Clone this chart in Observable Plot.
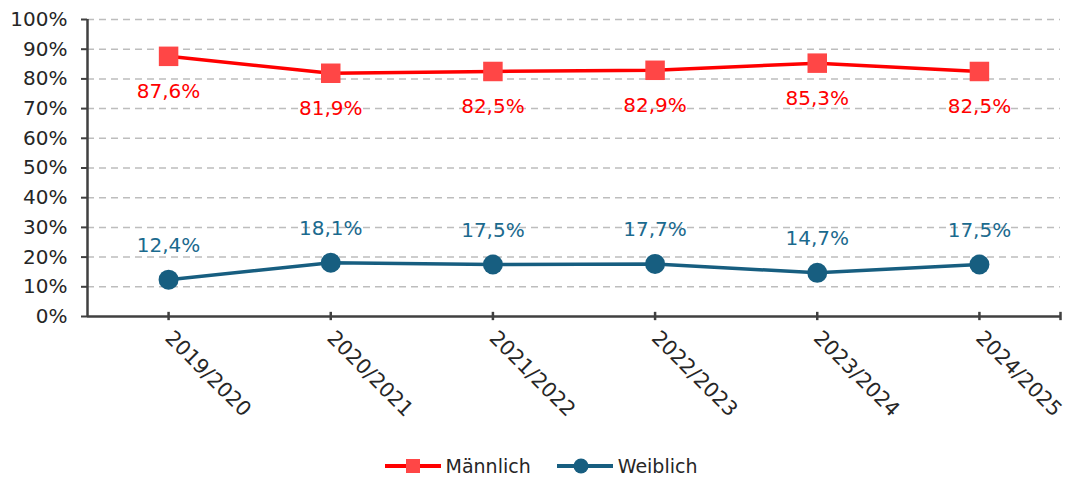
<!DOCTYPE html>
<html><head><meta charset="utf-8">
<script src="https://cdn.jsdelivr.net/npm/d3@7"></script>
<script src="https://cdn.jsdelivr.net/npm/@observablehq/plot@0.6"></script>
<style>
body{margin:0;background:#fff;font-family:"DejaVu Sans",sans-serif;}
#legend{height:32px;display:flex;justify-content:center;align-items:center;gap:26px;font-size:19px;color:#262626;margin-left:14px}
#legend span{display:flex;align-items:center;gap:5px}
</style></head>
<body><div id="chart"></div><div id="legend"></div>
<script>
const years = ["2019/2020","2020/2021","2021/2022","2022/2023","2023/2024","2024/2025"];
const maennlich = [87.6, 81.9, 82.5, 82.9, 85.3, 82.5];
const weiblich = [12.4, 18.1, 17.5, 17.7, 14.7, 17.5];
const yTicks = [0,10,20,30,40,50,60,70,80,90,100];
const seriesNames = ["Männlich","Weiblich"];
const colors = {line1:"#FF0000", mark1:"#FF4646", line2:"#175E80", label2:"#1B6A8E"};

const idx = years.map((_, i) => i);
const m = idx.map(i => ({i, v: maennlich[i]}));
const w = idx.map(i => ({i, v: weiblich[i]}));
const fmt = v => v.toFixed(1).replace(".", ",") + "%";
const xEnds = [-0.5, years.length - 0.5];
const xTickPos = [...idx, years.length - 0.5];

const chart = Plot.plot({
  width: 1068, height: 450,
  marginLeft: 87, marginRight: 8, marginTop: 19, marginBottom: 134,
  style: {fontFamily: "DejaVu Sans, sans-serif", background: "#fff"},
  x: {type: "linear", domain: xEnds, axis: null},
  y: {domain: [0, 100], axis: null},
  marks: [
    Plot.ruleY(yTicks.filter(d => d > 0), {x1: xEnds[0], x2: xEnds[1], stroke: "#BDBDBD", strokeWidth: 1.5, strokeDasharray: "7,5"}),
    Plot.axisY({ticks: yTicks, tickFormat: d => d + "%", tickSize: 6, tickPadding: 14, fontSize: 20, color: "#262626", stroke: "#404040", strokeWidth: 2, label: null}),
    Plot.ruleX([xEnds[0]], {y1: 0, y2: 100, stroke: "#404040", strokeWidth: 2.5}),
    Plot.ruleY([0], {x1: xEnds[0], x2: xEnds[1], stroke: "#404040", strokeWidth: 2.5}),
    Plot.ruleX(xTickPos, {y1: -1.4, y2: 1.4, stroke: "#404040", strokeWidth: 2.5}),
    Plot.axisX({ticks: idx, tickFormat: i => years[i], tickSize: 0, tickPadding: 18, tickRotate: 45, textAnchor: "start", fontSize: 20.5, color: "#262626", label: null}),
    Plot.line(m, {x: "i", y: "v", stroke: colors.line1, strokeWidth: 3.5}),
    Plot.dot(m, {x: "i", y: "v", symbol: "square", r: 11, fill: colors.mark1}),
    Plot.text(m, {x: "i", y: "v", text: d => fmt(d.v), dy: 35, fill: colors.line1, fontSize: 20}),
    Plot.line(w, {x: "i", y: "v", stroke: colors.line2, strokeWidth: 3.5}),
    Plot.dot(w, {x: "i", y: "v", r: 10, fill: colors.line2}),
    Plot.text(w, {x: "i", y: "v", text: d => fmt(d.v), dy: -34, fill: colors.label2, fontSize: 20})
  ]
});
document.getElementById("chart").appendChild(chart);

const legend = document.getElementById("legend");
legend.innerHTML =
  `<span><svg width="56" height="20"><line x1="0" y1="10" x2="56" y2="10" stroke="${colors.line1}" stroke-width="4"/><rect x="21" y="3" width="14" height="14" fill="${colors.mark1}"/></svg>${seriesNames[0]}</span>` +
  `<span><svg width="56" height="20"><line x1="0" y1="10" x2="56" y2="10" stroke="${colors.line2}" stroke-width="4"/><circle cx="24" cy="10" r="7.5" fill="${colors.line2}"/></svg>${seriesNames[1]}</span>`;
</script></body></html>
